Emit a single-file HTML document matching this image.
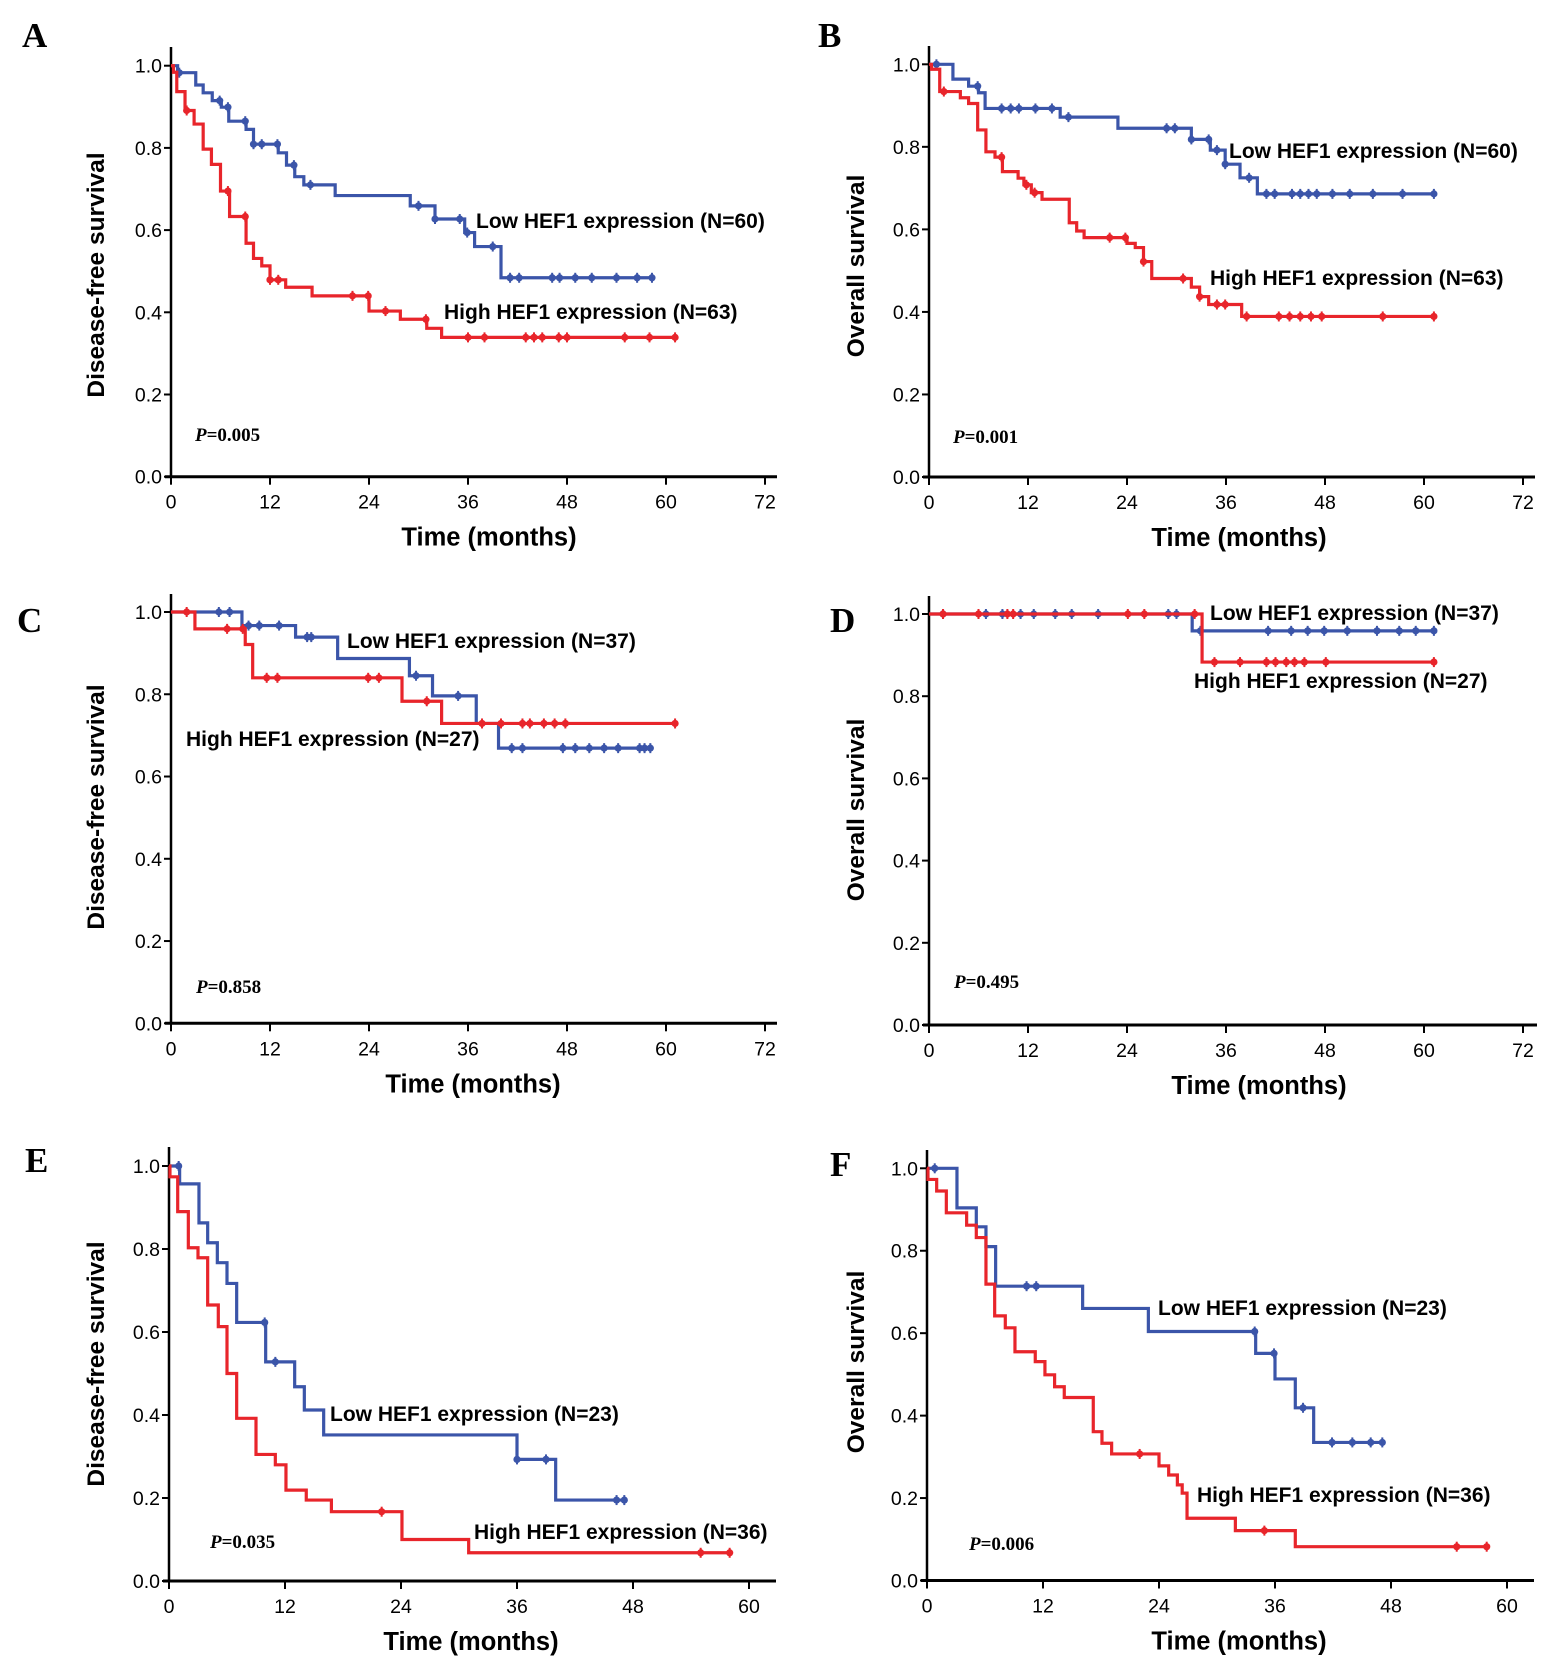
<!DOCTYPE html>
<html><head><meta charset="utf-8"><style>
html,body{margin:0;padding:0;background:#fff;}
svg{display:block;}
text{font-family:"Liberation Sans",Arial,sans-serif;}
</style></head><body>
<svg id="fig" width="1552" height="1671" viewBox="0 0 1552 1671" xmlns="http://www.w3.org/2000/svg"></svg>
<script>
// ---- Data (time in months, survival proportion) ----
const aLowT=[0.8,3,3.9,5,6.1,7,9.1,10,13,14,15,16.1,19.9,29,32,35.6,36.8,40];
const aLowS=[.983,.953,.934,.915,.899,.865,.845,.809,.788,.758,.730,.710,.684,.659,.627,.594,.560,.484];
const aLowC=[1,5.9,6.9,9,10,11,12.9,14.9,16.9,30,32,35,35.9,39,41.1,42.2,46.2,47.1,49,51,54,56.5,58.3];
const aHighT=[0.3,0.7,1.7,2.8,3.9,4.9,6.0,7.1,9.1,10,11,12,13.9,17.1,24,27.8,31,32.8];
const aHighS=[.984,.937,.891,.858,.797,.760,.695,.633,.568,.531,.513,.479,.461,.440,.403,.383,.361,.339];
const aHighC=[1.9,6.9,9,12,13,22,23.9,26,30.9,36,38,43,44,45,47,48,55,58,61.1];

const bLowT=[2.9,4.8,6.0,6.8,15.9,22.9,31.8,34.1,35.9,37.7,39.8];
const bLowS=[.964,.947,.931,.893,.872,.845,.818,.792,.758,.725,.686];
const bLowC=[0.9,5.9,8.8,9.9,10.9,12.9,14.9,16.9,28.8,29.8,31.8,33.9,34.9,35.9,38.8,40.9,41.9,44,45,46,47,48.9,51,53.8,57.4,61.2];
const bHighT=[0.3,1.3,3.8,4.8,5.9,6.9,8.0,8.9,10.8,11.5,12.4,13.7,17,17.9,18.8,24,25,26,27,31.8,32.8,33.9,37.9];
const bHighS=[.988,.934,.919,.905,.841,.788,.775,.740,.724,.708,.689,.673,.616,.596,.580,.566,.556,.522,.481,.460,.437,.418,.389];
const bHighC=[1.8,8.8,11.8,12.8,21.9,23.8,26,30.8,32.8,34.9,35.9,38.5,42.4,43.7,45,46.3,47.6,55,61.2];

const cLowT=[8.6,15.1,20.2,28.9,31.7,37,39.7];
const cLowS=[.967,.939,.887,.845,.796,.729,.669];
const cLowC=[5.8,7.1,9.4,10.7,13.1,16.5,17,29.7,34.8,41.3,42.6,47.5,49,50.7,52.5,54.2,56.8,57.4,58.1];
const cHighT=[2.9,9,9.9,28,32.8];
const cHighS=[.959,.921,.84,.783,.729];
const cHighC=[1.9,6.8,8.7,11.6,12.9,23.9,25.2,31,37.7,40,42.6,43.5,45.2,46.5,47.8,61.1];

const dLowT=[31.9];
const dLowS=[.959];
const dLowC=[1.7,6.9,8.9,11.1,12.7,15.3,17.3,20.5,29,30,32.9,41.1,43.9,45.9,47.9,50.7,54.3,57,59,61.2];
const dHighT=[33.1];
const dHighS=[.883];
const dHighC=[1.7,6,9.5,10.2,24.1,26.1,32.2,34.6,37.7,40.9,42,43.3,44.3,45.5,48.1,61.2];

const eLowT=[1.1,3.1,4.0,5.0,6.0,7.0,10.0,13.0,14.0,16.0,36.0,40.0];
const eLowS=[.957,.863,.815,.767,.717,.623,.528,.468,.412,.352,.293,.195];
const eLowC=[1.0,9.9,11.0,36.0,39.0,46.3,47.1];
const eHighT=[0.1,0.9,2.0,3.0,4.0,5.1,6.0,7.0,9.0,11.0,12.1,14.2,16.8,24.1,31];
const eHighS=[.974,.890,.803,.779,.665,.613,.500,.392,.305,.280,.219,.195,.167,.100,.068];
const eHighC=[22,55,58];

const fLowT=[3.1,5.1,6.1,7.1,16.1,22.9,34.0,36.0,38.1,40.0];
const fLowS=[.904,.858,.810,.714,.660,.604,.551,.489,.419,.335];
const fLowC=[0.8,10.3,11.3,33.9,35.9,38.9,41.9,44.0,45.9,47.1];
const fHighT=[0.1,1.0,2.0,4.1,5.1,6.1,7.0,8.1,9.1,11.2,12.2,13.2,14.2,17.2,18.1,19.1,24.0,25.0,25.9,26.4,26.9,31.9,38.1];
const fHighS=[.973,.945,.892,.862,.832,.719,.642,.613,.555,.531,.499,.470,.444,.361,.333,.307,.278,.256,.232,.212,.151,.121,.082];
const fHighC=[22.0,34.9,54.8,57.9];

const yTicks=["0.0","0.2","0.4","0.6","0.8","1.0"];
const xTicks72=[0,12,24,36,48,60,72];
const xTicks60=[0,12,24,36,48,60];

const BLUE="#3b55a9", RED="#e8252b";
const NS="http://www.w3.org/2000/svg";
const svg=document.getElementById('fig');
function mk(tag,attrs,parent){const e=document.createElementNS(NS,tag);for(const k in attrs)e.setAttribute(k,attrs[k]);(parent||svg).appendChild(e);return e;}

const panels=[
 {id:'a',letter:'A',lx:22,ly:47,x0:171,ppm:8.25,xMax:72,xEnd:777,y0:476.7,y1:65.7,yTop:47,ticks:xTicks72,ytitle:'Disease-free survival',ytx:96,yty:275,xtx:489,
  low:[aLowT,aLowS,aLowC,58.3],high:[aHighT,aHighS,aHighC,61.1],
  lowLbl:['Low HEF1 expression (N=60)',476,228],highLbl:['High HEF1 expression (N=63)',444,319],p:['0.005',195,441]},
 {id:'b',letter:'B',lx:818,ly:47,x0:929,ppm:8.25,xMax:72,xEnd:1535,y0:477,y1:64.3,yTop:46,ticks:xTicks72,ytitle:'Overall survival',ytx:856,yty:266,xtx:1239,
  low:[bLowT,bLowS,bLowC,61.2],high:[bHighT,bHighS,bHighC,61.2],
  lowLbl:['Low HEF1 expression (N=60)',1229,158],highLbl:['High HEF1 expression (N=63)',1210,285],p:['0.001',953,443]},
 {id:'c',letter:'C',lx:17,ly:632,x0:171,ppm:8.25,xMax:72,xEnd:777,y0:1023.3,y1:612,yTop:594,ticks:xTicks72,ytitle:'Disease-free survival',ytx:96,yty:807,xtx:473,
  low:[cLowT,cLowS,cLowC,58.1],high:[cHighT,cHighS,cHighC,61.1],
  lowLbl:['Low HEF1 expression (N=37)',347,648],highLbl:['High HEF1 expression (N=27)',186,746],p:['0.858',196,993]},
 {id:'d',letter:'D',lx:830,ly:632,x0:929,ppm:8.25,xMax:72,xEnd:1537,y0:1025,y1:614,yTop:596,ticks:xTicks72,ytitle:'Overall survival',ytx:856,yty:810,xtx:1259,
  low:[dLowT,dLowS,dLowC,61.2],high:[dHighT,dHighS,dHighC,61.2],
  lowLbl:['Low HEF1 expression (N=37)',1210,620],highLbl:['High HEF1 expression (N=27)',1194,688],p:['0.495',954,988]},
 {id:'e',letter:'E',lx:25,ly:1172,x0:169,ppm:116/12,xMax:60,xEnd:776,y0:1581,y1:1166,yTop:1147,ticks:xTicks60,ytitle:'Disease-free survival',ytx:96,yty:1364,xtx:471,
  low:[eLowT,eLowS,eLowC,47.1],high:[eHighT,eHighS,eHighC,58],
  lowLbl:['Low HEF1 expression (N=23)',330,1421],highLbl:['High HEF1 expression (N=36)',474,1539],p:['0.035',210,1548]},
 {id:'f',letter:'F',lx:830,ly:1176,x0:927,ppm:116/12,xMax:60,xEnd:1534,y0:1580.5,y1:1168.3,yTop:1150,ticks:xTicks60,ytitle:'Overall survival',ytx:856,yty:1362,xtx:1239,
  low:[fLowT,fLowS,fLowC,47.2],high:[fHighT,fHighS,fHighC,57.9],
  lowLbl:['Low HEF1 expression (N=23)',1158,1315],highLbl:['High HEF1 expression (N=36)',1197,1502],p:['0.006',969,1550]}
];

function survAt(T,S,t){let s=1;for(let i=0;i<T.length;i++){if(T[i]<=t)s=S[i];}return s;}

panels.forEach(p=>{
  const g=mk('g',{});
  
  
  const X=t=>p.x0+t*p.ppm;
  const Y=s=>p.y0-(p.y0-p.y1)*s;
  const lt=mk('text',{x:p.lx,y:p.ly,style:'font-family:"Liberation Serif",serif;font-weight:bold;font-size:35px'},g);
  lt.textContent=p.letter;
  
  
  const ya=mk('line',{x1:p.x0,y1:p.yTop,x2:p.x0,y2:p.y0,stroke:'#000','stroke-width':2.5},g);
  
  
  const xa=mk('line',{x1:p.x0-6,y1:p.y0,x2:p.xEnd,y2:p.y0,stroke:'#000','stroke-width':3},g);
  
  
  yTicks.forEach((lab,i)=>{
    const yy=Y(i*0.2);
    mk('line',{x1:p.x0-7,y1:yy,x2:p.x0,y2:yy,stroke:'#000','stroke-width':2},g);
    const t=mk('text',{x:p.x0-9,y:yy+7,'text-anchor':'end','font-size':19.5},g);
    t.textContent=lab;
    
    
  });
  p.ticks.forEach(v=>{
    const xx=X(v);
    mk('line',{x1:xx,y1:p.y0,x2:xx,y2:p.y0+8,stroke:'#000','stroke-width':2},g);
    const t=mk('text',{x:xx,y:p.y0+32,'text-anchor':'middle','font-size':19.5},g);
    t.textContent=v;
    
    
  });
  const xt=mk('text',{x:p.xtx,y:p.y0+69,'text-anchor':'middle','font-size':25.5,'font-weight':'bold'},g);
  xt.textContent='Time (months)';
  
  
  const yt=mk('text',{x:0,y:0,'text-anchor':'middle','font-size':24.5,'font-weight':'bold',transform:`translate(${p.ytx+8},${p.yty}) rotate(-90)`},g);
  yt.textContent=p.ytitle;
  
  
  [['low',BLUE,p.low],['high',RED,p.high]].forEach(([nm,col,d])=>{
    const [T,S,C,end]=d;
    let path=`M${X(0)},${Y(1)}`;
    for(let i=0;i<T.length;i++){path+=` H${X(T[i])} V${Y(S[i])}`;}
    path+=` H${X(end)}`;
    const pe=mk('path',{d:path,fill:'none',stroke:col,'stroke-width':3.2},g);
    
    
    C.forEach(t=>{
      const cx=X(t),cy=Y(survAt(T,S,t));
      const c=mk('circle',{cx:cx,cy:cy,r:3.6,fill:col},g);
      
      
      mk('line',{x1:cx,y1:cy-5,x2:cx,y2:cy+5,stroke:col,'stroke-width':2},g);
    });
  });
  [['low-legend-label',p.lowLbl],['high-legend-label',p.highLbl]].forEach(([nm,l])=>{
    const t=mk('text',{x:l[1],y:l[2],'font-size':21,'font-weight':'bold'},g);
    t.textContent=l[0];
    
    
  });
  const pv=mk('text',{x:p.p[1],y:p.p[2],style:'font-family:"Liberation Serif",serif;font-weight:bold;font-size:19px'},g);
  pv.innerHTML='<tspan font-style="italic">P</tspan>=' + p.p[0];
  
  
});
</script>
</body></html>
